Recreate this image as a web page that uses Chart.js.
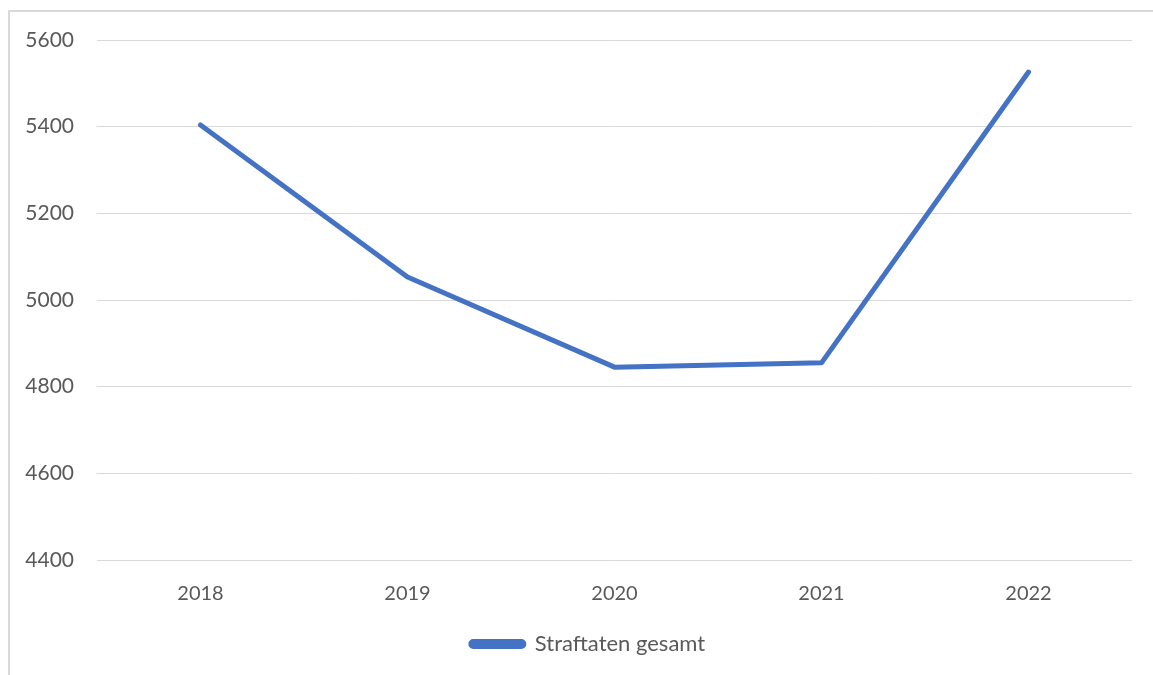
<!DOCTYPE html>
<html>
<head>
<meta charset="utf-8">
<script src="https://cdn.jsdelivr.net/npm/chart.js@4"></script>
<style>
  html, body { margin: 0; padding: 0; background: #fff; }
  #wrap { position: relative; width: 1153px; height: 675px; overflow: hidden; }
  #frame { position: absolute; left: 8px; top: 10px; width: 1200px; height: 700px; border-left: 2px solid #d9d9d9; border-top: 2px solid #d9d9d9; box-sizing: border-box; }
  canvas { position: absolute; left: 0; top: 0; }
</style>
</head>
<body>
<div id="wrap">
  <div id="frame"></div>
  <canvas id="c" width="1153" height="675"></canvas>
</div>
<script>
const years = ["2018", "2019", "2020", "2021", "2022"];
const seriesName = "Straftaten gesamt";
const straftaten = [5404, 5053, 4845, 4855, 5526];
const yMin = 4400, yMax = 5600, yStep = 200;

const FONT = "Lato, 'Open Sans', sans-serif";
const TXT = "#595959";

const shiftLegend = {
  id: "shiftLegend",
  afterLayout(chart) {
    const lg = chart.legend;
    if (lg) { lg.left += 22; lg.right += 22; }
  }
};

new Chart(document.getElementById("c"), {
  type: "line",
  data: {
    labels: years,
    datasets: [{
      label: seriesName,
      data: straftaten,
      borderColor: "#4472C4",
      backgroundColor: "#4472C4",
      borderWidth: 5,
      borderCapStyle: "round",
      borderJoinStyle: "round",
      pointRadius: 0,
      tension: 0,
      fill: false
    }]
  },
  plugins: [shiftLegend],
  options: {
    responsive: false,
    animation: false,
    layout: { padding: { left: 0, right: 21, top: 40, bottom: 10 } },
    plugins: {
      tooltip: { enabled: false },
      legend: {
        position: "bottom",
        labels: {
          color: TXT,
          font: { family: FONT, size: 22 },
          boxWidth: 53,
          boxHeight: 5,
          useBorderRadius: true,
          borderRadius: 2.5,
          padding: 7
        }
      }
    },
    scales: {
      x: {
        offset: true,
        grid: { display: false, drawTicks: false },
        border: { display: false },
        ticks: { color: TXT, font: { family: FONT, size: 20 }, padding: 22 },
        afterFit: (s) => { s.height = 66; }
      },
      y: {
        min: yMin,
        max: yMax,
        grid: { color: "#d9d9d9", lineWidth: 1, drawTicks: false },
        border: { display: false },
        ticks: {
          stepSize: yStep, color: TXT, font: { family: FONT, size: 21 }, padding: 23,
          callback: (v) => String(v)
        },
        afterFit: (s) => { s.width = 97; }
      }
    }
  }
});
</script>
</body>
</html>
